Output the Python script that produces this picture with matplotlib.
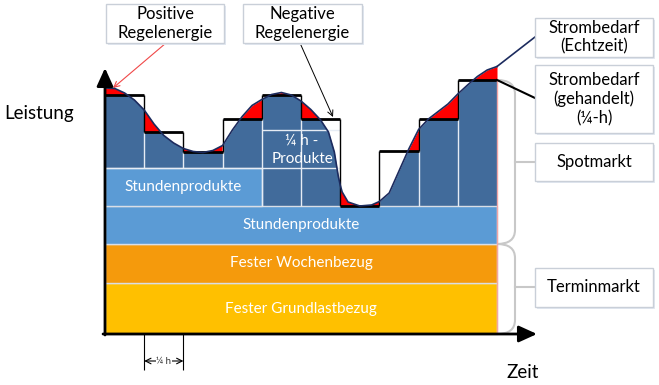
import numpy as np
import matplotlib.pyplot as plt
from matplotlib.patches import Rectangle, PathPatch
from matplotlib.path import Path

plt.rcParams['font.family'] = ['Lato', 'DejaVu Sans']

# gehandelte Viertelstunden-Leistung (10 Viertelstunden)
viertelstunden = np.arange(10)
gehandelt = [23.9, 20.2, 18.2, 21.5, 23.9, 21.5, 12.8, 18.3, 21.5, 25.4]

bedarf_x = [0.00, 0.25, 0.50, 0.75, 1.00, 1.25, 1.50, 1.75, 2.00, 2.25, 2.50,
            2.75, 3.00, 3.25, 3.50, 3.75, 4.00, 4.25, 4.50, 4.75, 5.00, 5.25,
            5.50, 5.70, 5.85, 5.95, 6.00, 6.05, 6.20, 6.50, 6.80, 7.00, 7.25,
            7.50, 7.75, 8.00, 8.25, 8.50, 8.75, 9.00, 9.25, 9.50, 9.75, 10.00]
bedarf_y = [24.6, 24.55, 24.1, 23.4, 22.4, 21.0, 19.85, 19.1, 18.55, 18.25, 18.15,
            18.35, 18.85, 20.4, 21.75, 22.85, 23.45, 23.95, 24.15, 23.9, 23.3, 22.45,
            21.4, 20.2, 18.2, 15.8, 14.9, 14.2, 13.2, 12.8, 12.9, 13.25, 14.1,
            16.3, 18.5, 20.45, 21.5, 22.25, 23.0, 24.0, 24.9, 25.75, 26.4, 26.75]

# Grundbaender (von unten)
baender = ['Fester Grundlastbezug', 'Fester Wochenbezug', 'Stundenprodukte']
band_hoehe = [5.1, 3.9, 3.8]
band_farbe = ['#FFC000', '#F59A0C', '#5B9BD5']
stunde1_hoehe = 3.8   # zusaetzliches Stundenprodukt in Stunde 1

dunkel = '#416B9B'
gitter = '#E6ECF4'


def px(x, y):
    # Bildpunkte -> Datenkoordinaten (nur fuer Beschriftungen)
    return (x - 105) / 39.2, (334 - y) / 10


fig = plt.figure(figsize=(6.59, 3.85), dpi=100)
ax = fig.add_axes([0, 0, 1, 1])
ax.set_xlim(-105 / 39.2, 554 / 39.2)
ax.set_ylim(-5.1, 33.4)
ax.axis('off')

unten = np.concatenate([[0], np.cumsum(band_hoehe)[:-1]])
sockel = sum(band_hoehe)
ax.bar([0, 0, 0], band_hoehe, width=10, bottom=unten, align='edge',
       color=band_farbe, edgecolor='#D9DEE6', lw=1, zorder=2)
ax.bar(0, stunde1_hoehe, width=4, bottom=sockel, align='edge',
       color=band_farbe[2], edgecolor='#D9DEE6', lw=1, zorder=2)

bx = np.array(bedarf_x)
by = np.array(bedarf_y)
for q, lvl in enumerate(gehandelt):
    m = (bx >= q) & (bx <= q + 1)
    xs, ys = bx[m], by[m]
    ax.fill_between([q, q + 1], sockel, lvl, color=dunkel, lw=0, zorder=1)
    ax.fill_between(xs, ys, lvl, where=ys < lvl, interpolate=True,
                    color='white', lw=0, zorder=1.5)
    ax.fill_between(xs, lvl, ys, where=ys > lvl, interpolate=True,
                    color='#FF0000', lw=0, zorder=3)

# Zellen der Viertelstundenprodukte
h1 = sockel + stunde1_hoehe
for q in range(1, 10):
    ax.vlines(q, h1 if q < 4 else sockel, gehandelt[q], colors=gitter, lw=1, zorder=2.5)
ax.hlines(h1, 0, 6, colors=gitter, lw=1, zorder=2.5)
ax.hlines(h1 + stunde1_hoehe, 4, 6, colors=gitter, lw=1, zorder=2.5)
ax.vlines(10, 0, gehandelt[-1], colors='#F2A6A6', lw=1, zorder=4.5)

# gehandelte Stufen
ax.hlines(gehandelt, viertelstunden, viertelstunden + 1, colors='k', lw=2, zorder=4)
for q in range(1, 10):
    ax.vlines(q, min(gehandelt[q - 1], gehandelt[q]), max(gehandelt[q - 1], gehandelt[q]),
              colors='k', lw=1, zorder=4)

ax.plot(bx, by, color='#1C2B5E', lw=1.2, zorder=5)

# Achsen
pfeil = dict(arrowstyle='-|>,head_length=1.1,head_width=0.5', color='k', lw=2,
             shrinkA=0, shrinkB=0, mutation_scale=10)
ax.annotate('', xy=(0, 26.6), xytext=(0, -0.1), arrowprops=pfeil, zorder=6)
ax.annotate('', xy=(11.02, 0), xytext=(-0.05, 0), arrowprops=pfeil, zorder=6)
ax.text(*px(4, 114), 'Leistung', ha='left', va='center', fontsize=13.5)
ax.text(*px(506, 372), 'Zeit', ha='left', va='center', fontsize=13.5)

# Bandbeschriftungen
mitte = unten + np.array(band_hoehe) / 2
for name, y in zip(baender, mitte):
    ax.text(5.0, y, name, ha='center', va='center', color='white', fontsize=11)
ax.text(2.0, sockel + stunde1_hoehe / 2, 'Stundenprodukte', ha='center', va='center',
        color='white', fontsize=11, zorder=6)
ax.text(5.03, 18.4, '¼ h -\nProdukte', ha='center', va='center', color='white',
        fontsize=11, linespacing=1.45, zorder=6)

# Viertelstunden-Bemassung
ax.vlines([1, 2], -3.6, 0, colors='k', lw=0.8)
ax.annotate('', xy=(1, -2.7), xytext=(2, -2.7),
            arrowprops=dict(arrowstyle='<->', color='k', lw=0.8, shrinkA=0, shrinkB=0))
ax.text(1.5, -2.7, '¼ h', ha='center', va='center', fontsize=7, color='#333333',
        bbox=dict(fc='white', ec='none', pad=0.5))


def kasten(l, t, r, b, text):
    x0, y0 = px(l, b)
    x1, y1 = px(r, t)
    sx, sy = 1.5 / 39.2, -0.2
    ax.add_patch(Rectangle((x0 + sx, y0 + sy), x1 - x0, y1 - y0, fc='#E3E9F1',
                           ec='none', zorder=6.5))
    ax.add_patch(Rectangle((x0, y0), x1 - x0, y1 - y0, fc='white', ec='#C9CFD8',
                           lw=1, zorder=7))
    ax.text((x0 + x1) / 2, (y0 + y1) / 2, text, ha='center', va='center',
            fontsize=12, linespacing=1.2, zorder=8)


kasten(106, 4, 224, 43, 'Positive\nRegelenergie')
kasten(243, 4, 362, 43, 'Negative\nRegelenergie')
kasten(535, 18, 653, 57, 'Strombedarf\n(Echtzeit)')
kasten(535, 65, 653, 133, 'Strombedarf\n(gehandelt)\n(¼-h)')
kasten(535, 143, 653, 181, 'Spotmarkt')
kasten(535, 268, 653, 307, 'Terminmarkt')

# Hinweispfeile
ax.annotate('', xy=px(113, 88), xytext=px(166, 43),
            arrowprops=dict(arrowstyle='->', color='#F04848', lw=0.8, shrinkA=0, shrinkB=0))
ax.annotate('', xy=px(333, 117), xytext=px(300, 43),
            arrowprops=dict(arrowstyle='->', color='k', lw=0.7, shrinkA=0, shrinkB=0))
ax.plot(*zip((10, bedarf_y[-1]), px(535, 37)), color='#1C2B5E', lw=1.2, zorder=5)
ax.plot(*zip((10, gehandelt[-1]), px(535, 98)), color='k', lw=1.5, zorder=5)


def klammer(oben, unten_, ziel_y):
    a = px(497, oben)
    b = px(515, oben + 14)
    c = px(515, unten_ - 14)
    d = px(497, unten_)
    pfad = Path([a, (b[0], a[1]), b, c, (c[0], d[1]), d],
                [Path.MOVETO, Path.CURVE3, Path.CURVE3, Path.LINETO, Path.CURVE3, Path.CURVE3])
    ax.add_patch(PathPatch(pfad, fc='none', ec='#C8C8C8', lw=1.5, zorder=4))
    ax.plot(*zip(px(515, ziel_y), px(535, ziel_y)), color='#C8C8C8', lw=1.5)


klammer(80, 244, 162)
klammer(244, 334, 287)

fig.savefig('out.png', dpi=100)
